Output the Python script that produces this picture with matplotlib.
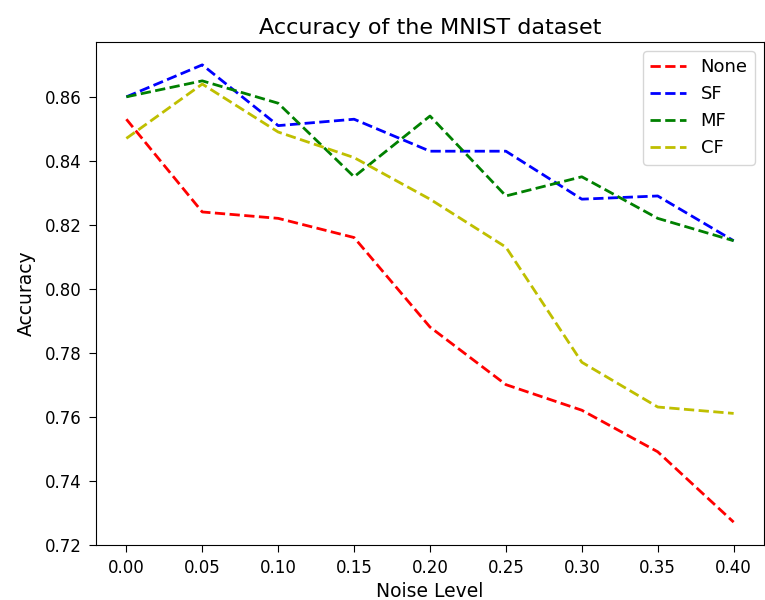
import numpy as np
import matplotlib
matplotlib.use("Agg")
import matplotlib.pyplot as plt

noise = [0.00, 0.05, 0.10, 0.15, 0.20, 0.25, 0.30, 0.35, 0.40]
acc_none = [0.853, 0.824, 0.822, 0.816, 0.788, 0.770, 0.762, 0.749, 0.727]
acc_sf = [0.860, 0.870, 0.851, 0.853, 0.843, 0.843, 0.828, 0.829, 0.815]
acc_mf = [0.860, 0.865, 0.858, 0.835, 0.854, 0.829, 0.835, 0.822, 0.815]
acc_cf = [0.847, 0.864, 0.849, 0.841, 0.828, 0.813, 0.777, 0.763, 0.761]

fig = plt.figure(figsize=(7.65, 6.0), dpi=100)
ax = fig.add_axes([96 / 765, 55 / 600, 668 / 765, 503 / 600])

ax.plot(noise, acc_none, "r--", label="None", linewidth=2)
ax.plot(noise, acc_sf, "b--", label="SF", linewidth=2)
ax.plot(noise, acc_mf, "g--", label="MF", linewidth=2)
ax.plot(noise, acc_cf, "y--", label="CF", linewidth=2)

ax.set_xticks(noise)
ax.tick_params(labelsize=12, length=5, pad=5)
ax.set_title("Accuracy of the MNIST dataset", fontsize=16)
ax.set_xlabel("Noise Level", fontsize=13.5)
ax.set_ylabel("Accuracy", fontsize=13.5, labelpad=7)
ax.legend(fontsize=13)

fig.savefig("out.png", dpi=100)
